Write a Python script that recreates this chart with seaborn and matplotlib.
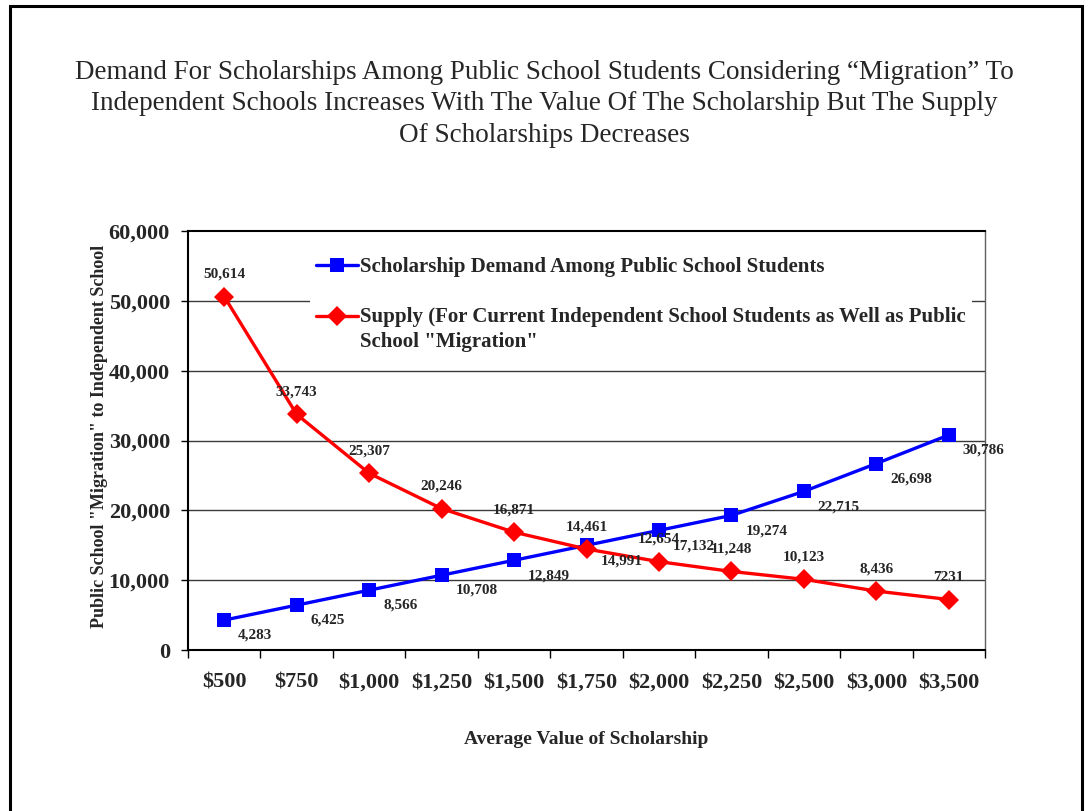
import matplotlib
matplotlib.use("Agg")
import matplotlib.pyplot as plt
from matplotlib.patches import Rectangle
from matplotlib.ticker import FixedLocator, FuncFormatter
from matplotlib.legend_handler import HandlerLine2D
from matplotlib.transforms import Affine2D
import pandas as pd
import seaborn as sns

# Scholarship value categories and the two series
categories = ["$500", "$750", "$1,000", "$1,250", "$1,500", "$1,750",
              "$2,000", "$2,250", "$2,500", "$3,000", "$3,500"]
demand = [4283, 6425, 8566, 10708, 12849, 14991, 17132, 19274, 22715, 26698, 30786]
supply = [50614, 33743, 25307, 20246, 16871, 14461, 12654, 11248, 10123, 8436, 7231]

demand_name = "Scholarship Demand Among Public School Students"
supply_name = ("Supply (For Current Independent School Students as Well as Public\n"
               "School \"Migration\"")

title = ("Demand For Scholarships Among Public School Students Considering \u201cMigration\u201d To\n"
         "Independent Schools Increases With The Value Of The Scholarship But The Supply\n"
         "Of Scholarships Decreases")

demand_labels = [f"{v:,}" for v in demand]
supply_labels = [f"{v:,}" for v in supply]
supply_labels[-1] = str(supply[-1])

df = pd.DataFrame({
    "pos": list(range(len(categories))) * 2,
    "value": demand + supply,
    "series": [demand_name] * len(demand) + [supply_name] * len(supply),
})


class FirstLineHandler(HandlerLine2D):
    """Line handle raised so it sits beside the first line of a wrapped label."""

    def __init__(self, shift_px, **kw):
        super().__init__(**kw)
        self.shift_px = shift_px

    def create_artists(self, legend, orig_handle, xdescent, ydescent,
                       width, height, fontsize, trans):
        arts = super().create_artists(legend, orig_handle, xdescent, ydescent,
                                      width, height, fontsize, trans)
        for a in arts:
            a.set_transform(a.get_transform() + Affine2D().translate(0, self.shift_px))
        return arts


sns.set_style("white")
plt.rcParams["font.family"] = ["Liberation Serif", "DejaVu Serif"]

fig = plt.figure(figsize=(10.88, 8.11), dpi=100)
ax = fig.add_axes([188 / 1088, 1 - 650 / 811, 797 / 1088, 419 / 811])

# Horizontal gridlines behind the data
for yv in range(10000, 60000, 10000):
    ax.axhline(yv, color="#3a3a3a", lw=1.0, zorder=0)

sns.lineplot(data=df, x="pos", y="value", hue="series", style="series",
             palette={demand_name: "#0000ff", supply_name: "#ff0000"},
             markers={demand_name: "s", supply_name: "D"},
             dashes=False, markersize=10, linewidth=2.4,
             markeredgewidth=0, ax=ax, zorder=3)

# Data labels: demand below-right, supply above
for i, (v, lab) in enumerate(zip(demand, demand_labels)):
    ax.annotate(lab, (i, v), xytext=(10, -11), textcoords="offset points",
                ha="left", va="center", fontsize=11, fontweight="bold", zorder=4)
for i, (v, lab) in enumerate(zip(supply, supply_labels)):
    ax.annotate(lab, (i, v), xytext=(0, 16), textcoords="offset points",
                ha="center", va="center", fontsize=11, fontweight="bold", zorder=4)

ax.set_xlim(-0.5, len(categories) - 0.5)
ax.set_ylim(0, 60000)

# Category labels at centres, tick marks on the category boundaries
ax.xaxis.set_major_locator(FixedLocator(range(len(categories))))
ax.set_xticklabels(categories)
ax.xaxis.set_minor_locator(FixedLocator([i - 0.5 for i in range(len(categories) + 1)]))
ax.tick_params(axis="x", which="major", length=0, pad=16, labelsize=16)
ax.tick_params(axis="x", which="minor", length=6, width=1, color="black", direction="out", bottom=True)
for t in ax.get_xticklabels():
    t.set_fontweight("bold")

ax.yaxis.set_major_locator(FixedLocator(range(0, 60001, 10000)))
ax.yaxis.set_major_formatter(FuncFormatter(lambda v, p: f"{int(v):,}"))
ax.tick_params(axis="y", length=5, width=1, color="black", direction="out", left=True,
               pad=8, labelsize=16)
for t in ax.get_yticklabels():
    t.set_fontweight("bold")

for side in ["left", "bottom", "top"]:
    ax.spines[side].set_color("black")
    ax.spines[side].set_linewidth(1.5)
ax.spines["right"].set_color("#606060")
ax.spines["right"].set_linewidth(1.0)

ax.set_xlabel("Average Value of Scholarship", fontsize=14, fontweight="bold")
ax.xaxis.set_label_coords(0.5, -(731 - 650) / 419)
ax.set_ylabel("Public School \"Migration\" to Independent School",
              fontsize=13, fontweight="bold")
ax.yaxis.set_label_coords(-(188 - 108) / 797, 0.51)

handles, labels = ax.get_legend_handles_labels()
supply_handle = handles[labels.index(supply_name)]
leg = ax.legend(handles, labels,
                loc="upper left", bbox_to_anchor=((310 - 188) / 797, (650 - 251) / 419),
                frameon=True, fancybox=False, facecolor="white", edgecolor="none",
                framealpha=1, fontsize=15, handlelength=2.0, handletextpad=0.1,
                labelspacing=1.45, borderpad=0.3, borderaxespad=0,
                handler_map={supply_handle: FirstLineHandler(14)})
for t in leg.get_texts():
    t.set_fontweight("bold")
    t.set_linespacing(1.3)
leg.set_zorder(5)

fig.text(0.5, 1 - 60 / 811, title, ha="center", va="top", fontsize=19.5,
         linespacing=1.33)

# Outer frame around the whole figure
fig.patches.append(Rectangle((10 / 1088, -0.02), (1082 - 10) / 1088, 1.02 - 6 / 811,
                             transform=fig.transFigure, fill=False,
                             edgecolor="black", linewidth=2.2))

fig.savefig("out.png", dpi=100)
